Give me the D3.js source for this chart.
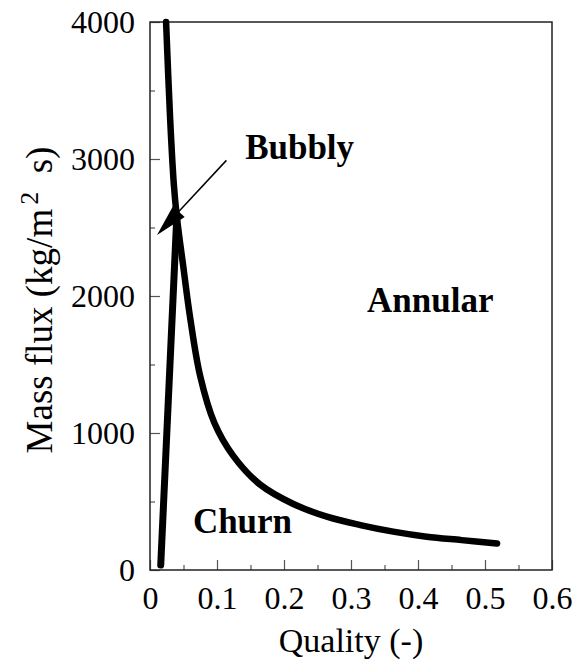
<!DOCTYPE html>
<html>
<head>
<meta charset="utf-8">
<script src="https://cdn.jsdelivr.net/npm/d3@7"></script>
<style>
  body { margin: 0; background: #fff; }
  text { font-family: "Liberation Serif", "Times New Roman", serif; fill: #000; }
</style>
</head>
<body>
<svg id="chart"></svg>
<script>
// transition boundary, annular side (quality vs mass flux)
var annularQuality = [0.024, 0.030, 0.0355, 0.040, 0.0497, 0.0597, 0.0747, 0.096, 0.124, 0.164, 0.214, 0.264, 0.314, 0.363, 0.413, 0.465, 0.518];
var annularFlux    = [4000, 3300, 2820, 2579, 2214, 1849, 1420, 1075, 835, 625, 482, 389, 328, 280, 243, 218, 193];

// bubbly / churn boundary
var churnQuality = [0.016, 0.040];
var churnFlux    = [36, 2579];

var xTicks = [0, 0.1, 0.2, 0.3, 0.4, 0.5, 0.6];
var yTicks = [0, 1000, 2000, 3000, 4000];

var regionNames = ["Bubbly", "Annular", "Churn"];
var regionQuality = [0.142, 0.324, 0.064];
var regionFlux = [3000, 1885, 270];

var svgWidth = 576, svgHeight = 664;
var margin = {top: 22, right: 24, bottom: 94, left: 150};
var w = svgWidth - margin.left - margin.right,
    h = svgHeight - margin.top - margin.bottom;

var svg = d3.select('#chart')
    .attr('width', svgWidth)
    .attr('height', svgHeight);

var g = svg.append('g')
    .attr('transform', 'translate(' + margin.left + ',' + margin.top + ')');

var x = d3.scaleLinear().domain([0, 0.6]).range([0, w]);
var y = d3.scaleLinear().domain([0, 4000]).range([h, 0]);

// minor ticks (inside)
var xMinor = d3.axisBottom(x).tickValues(d3.range(0.05, 0.6, 0.1)).tickSize(-5).tickFormat('');
var yMinor = d3.axisLeft(y).tickValues(d3.range(500, 4000, 1000)).tickSize(-5).tickFormat('');

g.append('g').attr('transform', 'translate(0,' + h + ')').call(xMinor);
g.append('g').call(yMinor);

var xAxis = d3.axisBottom(x)
    .tickValues(xTicks)
    .tickSizeInner(-10)
    .tickSizeOuter(0)
    .tickPadding(16)
    .tickFormat(function(d) { return d === 0 ? '0' : d3.format('.1f')(d); });

var yAxis = d3.axisLeft(y)
    .tickValues(yTicks)
    .tickSizeInner(-10)
    .tickSizeOuter(0)
    .tickPadding(15)
    .tickFormat(d3.format('d'));

g.append('g').attr('class', 'xaxis').attr('transform', 'translate(0,' + h + ')').call(xAxis);
g.append('g').attr('class', 'yaxis').call(yAxis);

g.selectAll('.tick line').attr('stroke', '#555').attr('stroke-width', 1.2);
g.selectAll('.domain').remove();
g.selectAll('.xaxis text, .yaxis text')
    .style('font-family', '"Liberation Serif", serif')
    .style('font-size', '32px')
    .attr('fill', '#000');

// frame
g.append('rect')
    .attr('width', w)
    .attr('height', h)
    .attr('fill', 'none')
    .attr('stroke', '#222')
    .attr('stroke-width', 1.5);

// curves
var line = d3.line()
    .x(function(d) { return x(d[0]); })
    .y(function(d) { return y(d[1]); })
    .curve(d3.curveCatmullRom.alpha(0.5));

g.append('path')
    .datum(d3.zip(annularQuality, annularFlux))
    .attr('d', line)
    .attr('fill', 'none')
    .attr('stroke', '#000')
    .attr('stroke-width', 6.5)
    .attr('stroke-linecap', 'round');

g.append('path')
    .datum(d3.zip(churnQuality, churnFlux))
    .attr('d', d3.line().x(function(d) { return x(d[0]); }).y(function(d) { return y(d[1]); }))
    .attr('fill', 'none')
    .attr('stroke', '#000')
    .attr('stroke-width', 7)
    .attr('stroke-linecap', 'round');

// region labels
g.selectAll('.region')
    .data(regionNames)
    .enter()
    .append('text')
    .attr('class', 'region')
    .attr('x', function(d, i) { return x(regionQuality[i]); })
    .attr('y', function(d, i) { return y(regionFlux[i]); })
    .style('font-size', '35px')
    .style('font-weight', 'bold')
    .text(function(d) { return d; });

// arrow from "Bubbly" to the transition point
var x0 = x(0.114), y0 = y(2990), x1 = x(0.0105), y1 = y(2445);
var len = Math.hypot(x1 - x0, y1 - y0);
var ux = (x1 - x0) / len, uy = (y1 - y0) / len;
var headLen = 32, headHalf = 8;
var bx = x1 - ux * headLen, by = y1 - uy * headLen;

g.append('line')
    .attr('x1', x0).attr('y1', y0)
    .attr('x2', bx).attr('y2', by)
    .attr('stroke', '#000')
    .attr('stroke-width', 1.5);

g.append('polygon')
    .attr('points', [
      [x1, y1],
      [bx - uy * headHalf, by + ux * headHalf],
      [bx + uy * headHalf, by - ux * headHalf]
    ].map(function(p) { return p.join(','); }).join(' '))
    .attr('fill', '#000');

// axis titles
svg.append('text')
    .attr('x', margin.left + w / 2)
    .attr('y', 652)
    .attr('text-anchor', 'middle')
    .style('font-size', '34px')
    .text('Quality (-)');

var yTitle = svg.append('text')
    .attr('transform', 'translate(52,' + (margin.top + h / 2 + 4) + ') rotate(-90)')
    .attr('text-anchor', 'middle')
    .style('font-size', '37px');
yTitle.append('tspan').text('Mass flux (kg/m');
yTitle.append('tspan').attr('dx', 4).attr('dy', -14).style('font-size', '26px').text('2');
yTitle.append('tspan').attr('dy', 14).text('\u00a0\u00a0s)');
</script>
</body>
</html>
